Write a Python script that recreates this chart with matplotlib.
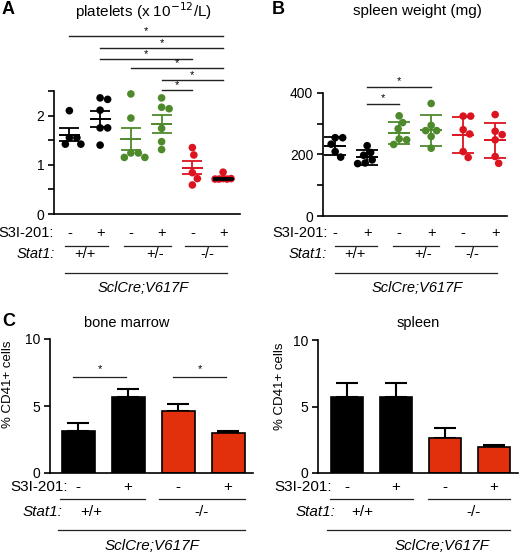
import numpy as np
import matplotlib
matplotlib.use("Agg")
import matplotlib.pyplot as plt
from matplotlib.transforms import blended_transform_factory

plt.rcParams['font.family'] = ['Liberation Sans', 'DejaVu Sans']

# ---- data ----
# A: platelets (x 10^-12/L), individual mice, mean +/- SEM
plt_wt_veh = [2.10, 1.55, 1.55, 1.42, 1.42]
plt_wt_s3i = [2.36, 2.33, 2.11, 1.75, 1.75, 1.40]
plt_het_veh = [2.44, 1.95, 1.24, 1.24, 1.15, 1.15]
plt_het_s3i = [2.36, 2.17, 2.14, 1.74, 1.47, 1.31]
plt_ko_veh = [1.35, 1.20, 0.84, 0.72, 0.59]
plt_ko_s3i = [0.85, 0.72, 0.71, 0.71, 0.72, 0.71]
plt_mean = [1.61, 1.93, 1.52, 1.83, 0.94, 0.72]
plt_sem = [0.13, 0.16, 0.22, 0.18, 0.135, 0.02]
plt_sig = [(1, 6), (2, 6), (2, 5), (3, 6), (4, 6), (4, 5)]

# B: spleen weight (mg), mean +/- SD
spl_wt_veh = [254, 254, 233, 209, 191]
spl_wt_s3i = [228, 206, 197, 182, 172, 170]
spl_het_veh = [325, 303, 283, 250, 247, 232]
spl_het_s3i = [365, 294, 277, 277, 258, 220]
spl_ko_veh = [324, 324, 280, 266, 209, 190]
spl_ko_s3i = [329, 275, 264, 247, 193, 171]
spl_mean = [228, 191, 270, 278, 264, 246]
spl_sd = [29, 24, 35, 50, 58, 57]
spl_sig = [(2, 4), (2, 3)]

# C: % CD41+ cells
bm_mean = [3.1, 5.7, 4.6, 3.0]
bm_err = [0.6, 0.56, 0.54, 0.14]
bm_sig = [(1, 2), (3, 4)]
sp_mean = [5.73, 5.70, 2.62, 1.92]
sp_err = [1.05, 1.05, 0.75, 0.15]

s3i_6 = ['-', '+', '-', '+', '-', '+']
s3i_4 = ['-', '+', '-', '+']
stat1_3 = ['+/+', '+/-', '-/-']
stat1_2 = ['+/+', '-/-']

BLACK = '#000000'
GREEN = '#4e8a2c'
RED = '#dc1420'
BARRED = '#e2300c'
dot_cols = [BLACK, BLACK, GREEN, GREEN, RED, RED]
mean_cols = [BLACK, BLACK, GREEN, GREEN, RED, BLACK]
bar_cols = [BLACK, BLACK, BARRED, BARRED]
# packing distance (px) for the dot swarms; last group in A overlaps tightly
swarm_d_A = [7.5, 7.5, 7.5, 7.5, 7.5, 4.0]

W, H = 520, 555
fig = plt.figure(figsize=(W / 100, H / 100), dpi=100)


def box(l, t, r, b):
    return [l / W, 1 - b / H, (r - l) / W, (b - t) / H]


def fy(ypx):
    return 1 - ypx / H


def style(ax, yticks, ylabels, fs=10):
    for s in ['top', 'right']:
        ax.spines[s].set_visible(False)
    ax.spines['left'].set_linewidth(1.2)
    ax.spines['bottom'].set_linewidth(1.2)
    ax.set_xticks([])
    ax.set_yticks(yticks)
    ax.set_yticklabels(ylabels)
    ax.tick_params(axis='y', length=4, width=1.2, labelsize=fs, pad=3)


def swarm(ax, x0, vals, d=7.5):
    placed, xs = [], []
    inv = ax.transData.inverted()
    for v in vals:
        px, py = ax.transData.transform((x0, v))
        cands = [0.0]
        for k in np.arange(0.5, 40, 0.5):
            cands += [k, -k]
        for off in cands:
            if all(np.hypot(px + off - qx, py - qy) >= d for qx, qy in placed):
                break
        placed.append((px + off, py))
        xs.append(inv.transform((px + off, py))[0])
    return xs


def rows(ax, xs, signs, pairs, glab_x, glabs, long_span, ys, s3i_right, stat_right, scl_x, fs):
    y_s3i, y_pair, y_stat, y_long, y_scl = ys
    tr = blended_transform_factory(ax.transData, fig.transFigure)
    fig.text(s3i_right / W, fy(y_s3i), 'S3I-201:', ha='right', va='center', fontsize=fs)
    for x, s in zip(xs, signs):
        ax.text(x, fy(y_s3i), s, transform=tr, ha='center', va='center', fontsize=fs)
    for a, b in pairs:
        ax.plot([a, b], [fy(y_pair)] * 2, transform=tr, color='#222222', lw=0.9, clip_on=False)
    fig.text(stat_right / W, fy(y_stat), 'Stat1:', ha='right', va='center', fontsize=fs, style='italic')
    for x, s in zip(glab_x, glabs):
        ax.text(x, fy(y_stat), s, transform=tr, ha='center', va='center', fontsize=fs)
    ax.plot(long_span, [fy(y_long)] * 2, transform=tr, color='#222222', lw=0.9, clip_on=False)
    fig.text(scl_x / W, fy(y_scl), 'SclCre;V617F', ha='center', va='center', fontsize=fs, style='italic')


def sig_bars(ax, pairs, levels, dy):
    for (a, b), lev in zip(pairs, levels):
        ax.plot([a, b], [lev, lev], color='#222222', lw=1.0, clip_on=False)
        ax.text((a + b) / 2, lev + dy, '*', ha='center', va='center', fontsize=8, clip_on=False)


# ---------- A ----------
axA = fig.add_axes(box(54, 91, 240, 214))
axA.set_xlim(0.5, 6.55)
axA.set_ylim(0, 2.5)
style(axA, [0, 0.5, 1, 1.5, 2, 2.5], ['0', '', '1', '', '2', ''])
groups_A = [plt_wt_veh, plt_wt_s3i, plt_het_veh, plt_het_s3i, plt_ko_veh, plt_ko_s3i]
pos6 = np.arange(1, 7)
for i, vals in enumerate(groups_A):
    xs = swarm(axA, pos6[i], vals, swarm_d_A[i])
    axA.scatter(xs, vals, s=30, color=dot_cols[i], edgecolors='none', zorder=3, clip_on=False)
    axA.hlines(plt_mean[i], pos6[i] - 0.34, pos6[i] + 0.34, color=mean_cols[i], lw=1.4, zorder=4)
    axA.errorbar(pos6[i], plt_mean[i], yerr=plt_sem[i], fmt='none', ecolor=mean_cols[i],
                 elinewidth=1.3, capsize=7, capthick=1.3, zorder=4)
sig_bars(axA, plt_sig, [3.61, 3.38, 3.16, 2.96, 2.73, 2.53], 0.1)
fig.text(143 / W, fy(11), 'platelets (x 10$^{-12}$/L)', fontsize=11, ha='center', va='center')
ys_top = (233, 246, 254, 273, 288)
rows(axA, pos6, s3i_6, [(0.87, 2.25), (2.77, 4.3), (4.77, 6.13)], [1.5, 3.8, 5.5], stat1_3,
     [0.87, 6.13], ys_top, 54, 55, 143, 10.5)
fig.text(2 / W, fy(9), 'A', fontsize=13, fontweight='bold', va='center', ha='left')

# ---------- B ----------
axB = fig.add_axes(box(323, 92.7, 507, 216))
axB.set_xlim(0.62, 6.37)
axB.set_ylim(0, 400)
style(axB, [0, 100, 200, 300, 400], ['0', '', '200', '', '400'])
groups_B = [spl_wt_veh, spl_wt_s3i, spl_het_veh, spl_het_s3i, spl_ko_veh, spl_ko_s3i]
for i, vals in enumerate(groups_B):
    xs = swarm(axB, pos6[i], vals)
    col = dot_cols[i]
    axB.scatter(xs, vals, s=30, color=col, edgecolors='none', zorder=3, clip_on=False)
    axB.hlines(spl_mean[i], pos6[i] - 0.34, pos6[i] + 0.34, color=col, lw=1.4, zorder=4)
    axB.errorbar(pos6[i], spl_mean[i], yerr=spl_sd[i], fmt='none', ecolor=col,
                 elinewidth=1.3, capsize=8, capthick=1.3, zorder=4)
sig_bars(axB, spl_sig, [419, 364], 18)
fig.text(417 / W, fy(11), 'spleen weight (mg)', fontsize=11, ha='center', va='center')
rows(axB, pos6, s3i_6, [(1.0, 2.3), (2.8, 4.25), (4.75, 6.05)], [1.62, 3.75, 5.3], stat1_3,
     [1.0, 6.05], ys_top, 328, 327, 417, 10.5)
fig.text(272 / W, fy(9), 'B', fontsize=13, fontweight='bold', va='center', ha='left')

# ---------- C ----------
pos4 = np.arange(1, 5)


def bar_panel(ax, means, errs, title, tx, lab_xy):
    style(ax, [0, 5, 10], ['0', '5', '10'])
    ax.set_ylim(0, 10)
    ax.bar(pos4, means, width=0.66, color=bar_cols, edgecolor='black', linewidth=1.2, zorder=2)
    ax.errorbar(pos4, means, yerr=[np.zeros(4), errs], fmt='none', ecolor='black',
                elinewidth=1.5, capsize=8, capthick=1.5, zorder=1)
    ax.set_ylabel('% CD41+ cells', fontsize=9.5)
    ax.yaxis.set_label_coords(*lab_xy)
    fig.text(tx / W, fy(323), title, fontsize=10.5, ha='center', va='center')


ys_bot = (487, 499, 512, 530, 546)
axC1 = fig.add_axes(box(50, 339, 253, 473))
bar_panel(axC1, bm_mean, bm_err, 'bone marrow', 127, (-0.175, 0.66))
axC1.set_xlim(0.44, 4.5)
for a, b in bm_sig:
    axC1.plot([a - 0.1, b - 0.05], [7.2, 7.2], color='#222222', lw=0.9)
    axC1.text((a + b) / 2 - 0.07, 7.75, '*', ha='center', va='center', fontsize=8)
rows(axC1, pos4, s3i_4, [(0.64, 2.33), (2.62, 4.34)], [1.26, 3.47], stat1_2,
     [0.6, 4.34], ys_bot, 68, 62, 152, 11)
fig.text(2 / W, fy(321), 'C', fontsize=13, fontweight='bold', va='center', ha='left')

axC2 = fig.add_axes(box(318, 340, 518, 473))
bar_panel(axC2, sp_mean, sp_err, 'spleen', 418, (-0.16, 0.65))
axC2.set_xlim(0.41, 4.49)
rows(axC2, pos4, s3i_4, [(0.65, 2.35), (2.65, 4.33)], [1.31, 3.59], stat1_2,
     [0.6, 4.33], ys_bot, 332, 335, 442, 11)

axA.set_xlim(0.5, 6.55)
axA.set_ylim(0, 2.5)
axB.set_xlim(0.62, 6.37)
axB.set_ylim(0, 400)
axC1.set_xlim(0.44, 4.5)
axC1.set_ylim(0, 10)
axC2.set_xlim(0.41, 4.49)
axC2.set_ylim(0, 10)

fig.savefig('out.png', dpi=100)
